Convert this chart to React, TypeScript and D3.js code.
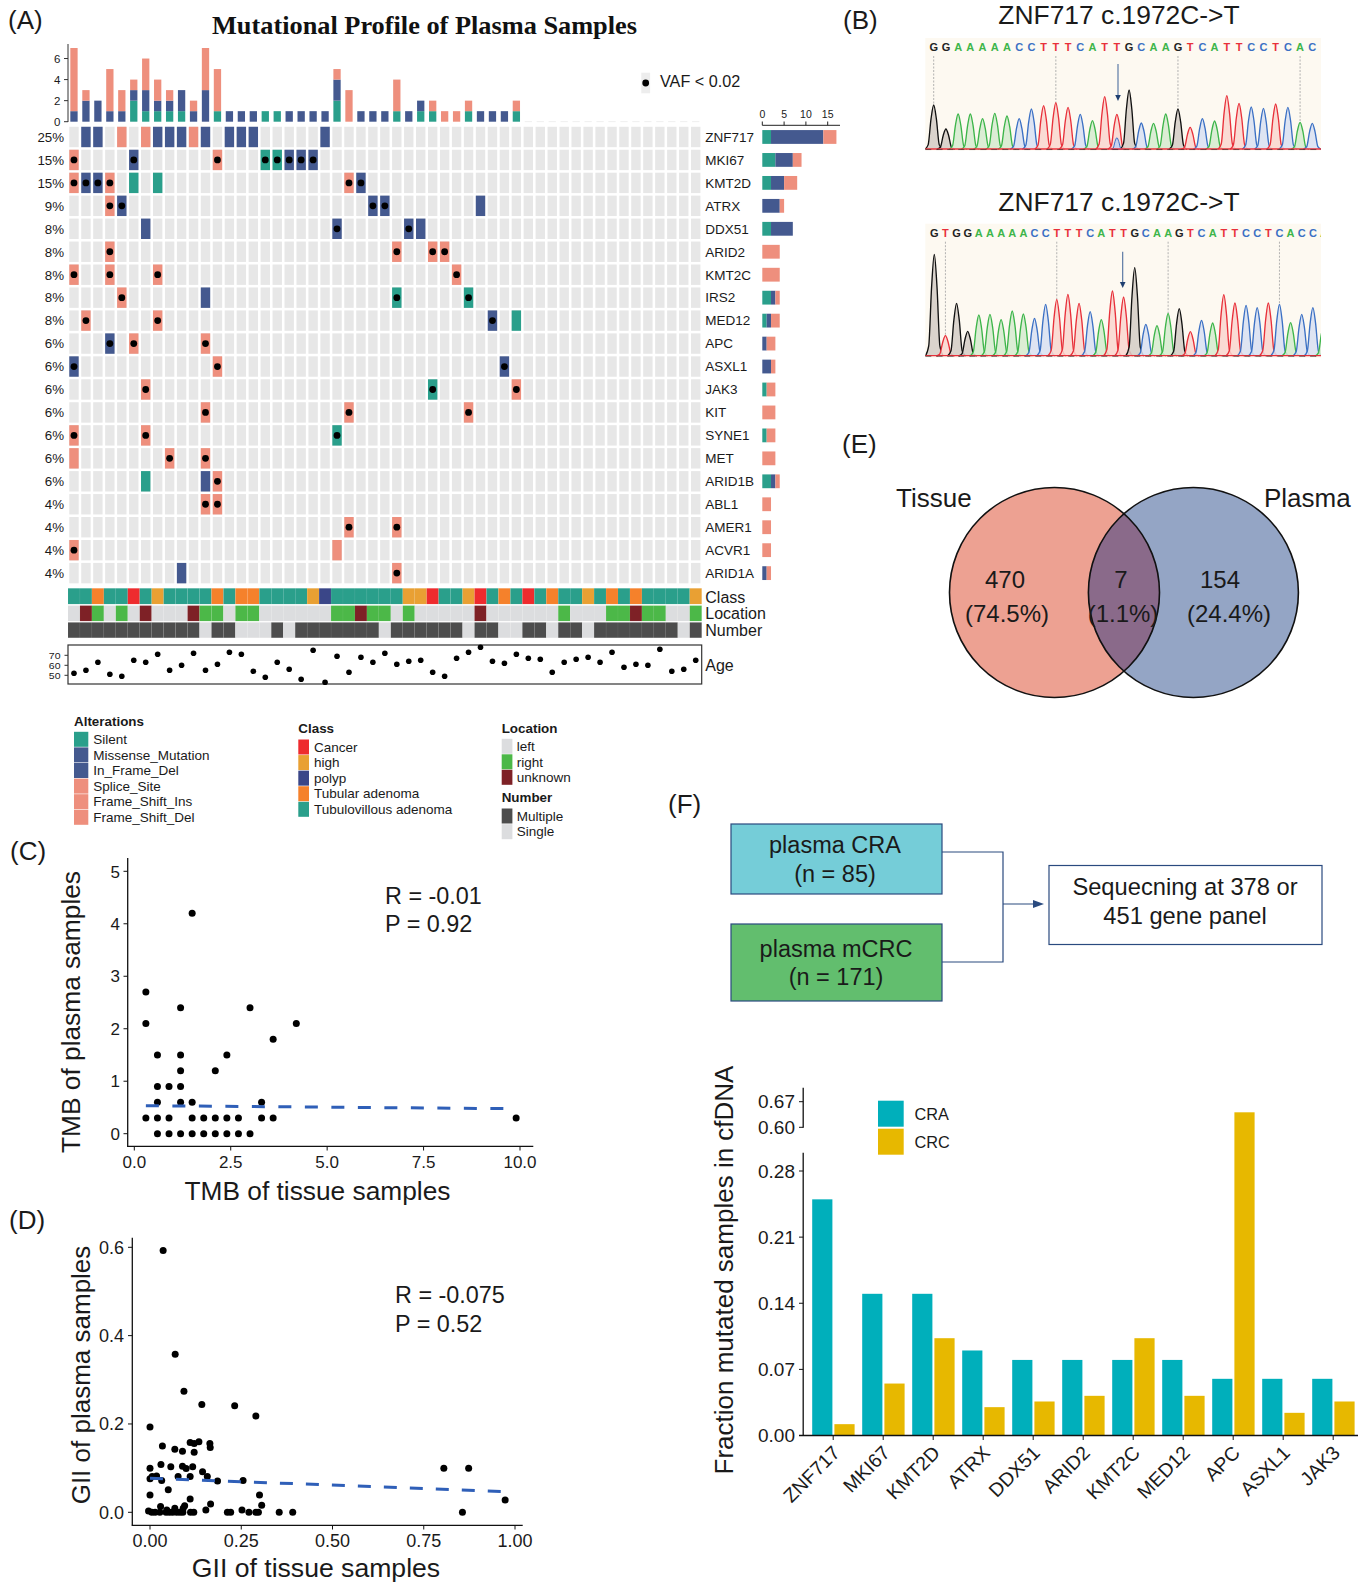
import React from 'react';
import * as d3 from 'd3';

const SANS = '"Liberation Sans", Arial, sans-serif';
const SERIF = '"Liberation Serif", serif';
const SALMON = '#EE8F7D', BLUE = '#44598F', TEAL = '#2A9F8B';

/* ---------- Panel A data ---------- */
const genes = ['ZNF717','MKI67','KMT2D','ATRX','DDX51','ARID2','KMT2C','IRS2','MED12','APC','ASXL1','JAK3','KIT','SYNE1','MET','ARID1B','ABL1','AMER1','ACVR1','ARID1A'];
const pcts = ['25%','15%','15%','9%','8%','8%','8%','8%','8%','6%','6%','6%','6%','6%','6%','6%','4%','4%','4%','4%'];
// column + type (b blue, s salmon, g green) + optional * for VAF<0.02
const mutations = [
  '1b 2b 4s 6s 7b 8b 9b 10s 11b 13b 14b 15b 21b',
  '0s* 5b* 12s* 16g* 17g* 18b* 19b* 20b*',
  '0s* 1b* 2b* 3s* 5g 7g 23s* 24b*',
  '3s* 4b* 25b* 26b* 34b',
  '6b 22b* 28b* 29b',
  '3s* 27s* 30s* 31s*',
  '0s* 3s* 7s* 32s*',
  '4s* 11b 27g* 33g*',
  '1s* 7s* 35b* 37g',
  '3b* 5s* 11s*',
  '0b* 12s* 36b*',
  '6s* 30g* 37s*',
  '11s* 23s* 33s*',
  '0s* 6s* 22g*',
  '0s 8s* 11s*',
  '6g 11b 12s*',
  '11s* 12s*',
  '23s* 27s*',
  '0s* 22s',
  '9b 27s*',
];
const topGreen =  [0,0,0,0,0,2,1,1,1,1,0,0,1,0,0,0,1,1,0,0,0,0,2,0,0,0,0,1,0,1,1,0,0,1,0,0,0,1];
const topBlue =   [1,2,2,1,1,1,2,1,1,2,1,3,0,1,1,1,0,0,1,1,1,1,2,0,1,1,1,0,1,1,0,0,0,0,1,1,1,0];
const topSalmon = [6,1,0,4,2,1,3,2,1,0,1,4,4,0,0,0,0,0,0,0,0,0,1,3,0,0,0,3,0,0,1,1,1,1,0,0,0,1];
const sideGreen =  [2,3,2,0,2,0,0,2,1,0,0,1,0,1,0,2,0,0,0,0];
const sideBlue =   [12,4,3,4,5,0,0,1,1,1,2,0,0,0,0,1,0,0,0,1];
const sideSalmon = [3,2,3,1,0,4,4,1,2,2,1,2,3,2,3,1,2,2,2,1];
const classCodes = ['t','t','o','t','t','r','t','a','t','t','t','t','o','t','o','o','t','t','t','t','a','p','t','t','t','t','t','t','a','a','r','t','t','a','r','t','o','t','r','t','o','t','t','a','t','o','t','o','t','t','t','t','a'];
const locationCodes = ['l','u','g','l','g','l','u','l','l','l','u','g','g','l','g','g','l','l','l','l','l','l','g','g','u','g','g','l','g','l','l','l','l','l','u','l','l','l','l','l','l','g','l','l','l','g','g','u','g','g','l','l','g'];
const numberCodes = ['m','m','m','m','m','m','m','m','m','m','m','s','m','m','s','s','s','m','s','m','m','m','m','m','m','m','s','m','m','m','m','m','m','s','m','m','s','s','m','m','s','m','m','s','m','m','m','m','m','m','m','s','m'];
const ages = [52,55,63,51,49,65,63,71,55,60,72,55,61,73,71,54,48,63,56,46,75,43,69,53,68,63,72,61,64,65,53,49,67,73,78,64,62,71,67,66,53,63,66,68,63,73,58,61,60,76,54,56,65];
const classColor: Record<string,string> = { t:'#2A9F8B', o:'#F5812B', r:'#EE2B2E', a:'#E9A033', p:'#3A4688' };
const locColor: Record<string,string> = { l:'#DCDDDF', g:'#4CB848', u:'#7E2126' };
const numColor: Record<string,string> = { m:'#4D4D4D', s:'#DCDDDF' };
const mutColor: Record<string,string> = { b:BLUE, s:SALMON, g:TEAL };

const legendAlt = [['Silent',TEAL],['Missense_Mutation',BLUE],['In_Frame_Del',BLUE],['Splice_Site',SALMON],['Frame_Shift_Ins',SALMON],['Frame_Shift_Del',SALMON]];
const legendClass = [['Cancer','#EE2B2E'],['high','#E9A033'],['polyp','#3A4688'],['Tubular adenoma','#F5812B'],['Tubulovillous adenoma','#2A9F8B']];
const legendLoc = [['left','#DCDDDF'],['right','#4CB848'],['unknown','#7E2126']];
const legendNum = [['Multiple','#4D4D4D'],['Single','#DCDDDF']];

/* ---------- Panel B data ---------- */
const seq1 = 'GGAAAAACCTTTCATTGCAAGTCATTCCTCAC'.split('');
const signal1 = [133,61,106,106,92,108,100,92,121,131,140,126,105,86,158,105,178,79,78,106,121,66,92,85,161,138,127,123,136,126,81,78];
const seq2 = 'GTGGAAAAACCTTTCATTGCAAGTCATTCCTCACCA'.split('');
const signal2 = [305,61,158,74,123,125,109,135,126,113,155,170,185,158,133,109,195,177,265,95,91,128,142,73,107,99,184,159,152,145,159,155,100,125,145,95];
const baseColor: Record<string,string> = { A:'#3DB54A', C:'#3B70C4', G:'#111111', T:'#E8303A' };
const baseFill: Record<string,string> = { A:'#D5EBCF', C:'#D8E0F2', G:'#D3CDC6', T:'#F9D6CF' };
const baseText: Record<string,string> = { A:'#3DB54A', C:'#3B70C4', G:'#222222', T:'#E8303A' };
const guide1 = [0,10,20,30];
const guide2 = [1,11,21,31];

/* ---------- Panel C data ---------- */
const tmbTissue = [1.5,0.3,0.3,1.2,3,4.2,3.6,0.6,1.2,2.4,1.2,2.1,0.6,0.9,1.2,0.6,1.2,1.5,3.3,0.3,0.6,0.9,1.5,1.8,2.1,2.4,2.7,3.3,3.6,9.9,0.6,0.9,1.2,1.5,1.8,2.1,2.4,2.7,3.0];
const tmbPlasma = [4.2,2.7,2.1,2.4,2.4,2.1,1.8,1.5,1.5,1.5,1.2,1.2,0.9,0.9,0.9,0.6,0.6,0.6,0.6,0.3,0.3,0.3,0.3,0.3,0.3,0.3,0.3,0.3,0.3,0.3,0,0,0,0,0,0,0,0,0];
const tmbFit = [[0.3,0.534],[9.9,0.476]];

/* ---------- Panel D data ---------- */
const giiTissue = [.036,.069,.093,.142,.232,.29,0,.034,.068,.089,.11,.121,.134,.164,.165,.121,0,.03,.057,.089,.099,.117,.144,.157,.185,.255,0,.018,.006,.032,.077,.11,.05,0,.11,.166,.3,.306,.805,.873,.973,.856,
  -.004,.005,.014,.027,.044,.053,.062,.073,.082,.09,.111,.12,.212,.221,.271,.29,.297,.354,.391,.029,.068,.095,.091,.153,.252,.046];
const giiPlasma = [.593,.358,.274,.244,.241,.218,.193,.15,.143,.138,.158,.156,.16,.156,.147,.136,.1,.108,.103,.104,.099,.103,.092,.081,.071,.072,.076,.082,.081,.072,.081,.081,.051,.039,.03,.019,.039,.016,.1,.1,.028,0,
  .003,0,0,0,0,0,0,0,0,0,0,0,0,0,0,0,0,0,0,.013,.009,.015,.009,.005,.005,.005];
const giiFit = [[0,.077],[.973,.047]];

/* ---------- Panel F data ---------- */
const fGenes = ['ZNF717','MKI67','KMT2D','ATRX','DDX51','ARID2','KMT2C','MED12','APC','ASXL1','JAK3'];
const fCRA = [.25,.15,.15,.09,.08,.08,.08,.08,.06,.06,.06];
const fCRC = [.012,.055,.103,.03,.036,.042,.103,.042,.641,.024,.036];
const fLower = [0,.07,.14,.21,.28];
const fUpper = [.6,.67];

/* ---------- helpers ---------- */
const T = (p: any) => <text fontFamily={SANS} fill="#1a1a1a" {...p} />;
const col = d3.scaleBand<number>().domain(d3.range(53)).range([68, 701.7]);
const row = d3.scaleBand<string>().domain(genes).range([125.5, 584.6]);
const cx = (c: number) => col(c)! + col.bandwidth() / 2;
const cy = (g: string) => row(g)! + row.bandwidth() / 2;

function Oncoplot() {
  const topY = d3.scaleLinear().domain([0, 7]).range([121.7, 48]);
  const sideX = d3.scaleLinear().domain([0, 15]).range([762.3, 827.7]);
  const ageY = d3.scaleLinear().domain([50, 70]).range([675.3, 655.3]);
  const cellW = 9.4, cellH = 20.4;
  return (
    <g>
      <text x={212} y={34} fontFamily={SERIF} fontWeight="bold" fontSize={26} textLength={425} lengthAdjust="spacingAndGlyphs" fill="#111">Mutational Profile of Plasma Samples</text>
      {/* top bars */}
      {d3.range(53).map(c => {
        const g = topGreen[c] || 0, b = topBlue[c] || 0, s = topSalmon[c] || 0;
        const x = cx(c) - 3.65;
        if (g + b + s === 0) return <rect key={c} x={x} y={121.4} width={7.3} height={0.7} fill="#e8e8e8" />;
        return (
          <g key={c}>
            <rect x={x} y={topY(g)} width={7.3} height={topY(0) - topY(g)} fill={TEAL} />
            <rect x={x} y={topY(g + b)} width={7.3} height={topY(g) - topY(g + b)} fill={BLUE} />
            <rect x={x} y={topY(g + b + s)} width={7.3} height={topY(g + b) - topY(g + b + s)} fill={SALMON} />
          </g>
        );
      })}
      <line x1={68} x2={68} y1={44} y2={122} stroke="#333" strokeWidth={1} />
      {[0, 2, 4, 6].map(v => (
        <g key={v}>
          <line x1={64} x2={68} y1={topY(v)} y2={topY(v)} stroke="#333" />
          <T x={60.5} y={topY(v) + 4} fontSize={11.5} textAnchor="end">{v}</T>
        </g>
      ))}
      {/* grid */}
      {genes.map((g, i) => {
        const muts = mutations[i].split(' ').map(m => ({ c: parseInt(m), t: m.replace(/[0-9*]/g, ''), dot: m.endsWith('*') }));
        return (
          <g key={g}>
            {d3.range(53).map(c => (
              <rect key={c} x={cx(c) - cellW / 2} y={cy(g) - cellH / 2} width={cellW} height={cellH} fill="#E7E7E7" />
            ))}
            {muts.map(m => <rect key={m.c} x={cx(m.c) - cellW / 2} y={cy(g) - cellH / 2} width={cellW} height={cellH} fill={mutColor[m.t]} />)}
            {muts.filter(m => m.dot).map(m => <circle key={m.c} cx={cx(m.c)} cy={cy(g)} r={3.4} fill="#000" />)}
            <T x={64} y={cy(g) + 4.8} fontSize={13.3} textAnchor="end">{pcts[i]}</T>
            <T x={705.3} y={cy(g) + 4.8} fontSize={13.5}>{g}</T>
            <rect x={sideX(0)} y={cy(g) - 6.9} width={sideX(sideGreen[i]) - sideX(0)} height={13.8} fill={TEAL} />
            <rect x={sideX(sideGreen[i])} y={cy(g) - 6.9} width={sideX(sideBlue[i]) - sideX(0)} height={13.8} fill={BLUE} />
            <rect x={sideX(sideGreen[i] + sideBlue[i])} y={cy(g) - 6.9} width={sideX(sideSalmon[i]) - sideX(0)} height={13.8} fill={SALMON} />
          </g>
        );
      })}
      {/* side axis */}
      <line x1={762.3} x2={840} y1={125.3} y2={125.3} stroke="#222" />
      {[0, 5, 10, 15].map(v => (
        <g key={v}>
          <line x1={sideX(v)} x2={sideX(v)} y1={121.5} y2={125.3} stroke="#222" />
          <T x={sideX(v)} y={118} fontSize={10.5} textAnchor="middle">{v}</T>
        </g>
      ))}
      {/* annotations */}
      {d3.range(53).map(c => (
        <g key={c}>
          <rect x={col(c)} y={588.3} width={col.bandwidth()} height={15.8} fill={classColor[classCodes[c]]} stroke="#fff" strokeOpacity={0.08} strokeWidth={0.5} />
          <rect x={col(c)} y={605.6} width={col.bandwidth()} height={15.5} fill={locColor[locationCodes[c]]} stroke="#fff" strokeOpacity={0.08} strokeWidth={0.5} />
          <rect x={col(c)} y={622.4} width={col.bandwidth()} height={15.4} fill={numColor[numberCodes[c]]} stroke="#fff" strokeOpacity={0.08} strokeWidth={0.5} />
        </g>
      ))}
      <T x={705.3} y={602.5} fontSize={16}>Class</T>
      <T x={705.3} y={619} fontSize={16}>Location</T>
      <T x={705.3} y={636} fontSize={16}>Number</T>
      <T x={705.3} y={670.5} fontSize={16}>Age</T>
      {/* age */}
      <rect x={68} y={645} width={633.7} height={39} fill="none" stroke="#333" strokeWidth={1.2} />
      {ages.map((a, c) => <circle key={c} cx={cx(c)} cy={ageY(a)} r={2.8} fill="#000" />)}
      {[50, 60, 70].map(v => (
        <g key={v}>
          <line x1={64.5} x2={68} y1={ageY(v)} y2={ageY(v)} stroke="#333" />
          <T x={48.8} y={ageY(v) + 3.3} fontSize={8.8} textLength={11.7} lengthAdjust="spacingAndGlyphs">{v}</T>
        </g>
      ))}
      {/* vaf */}
      <rect x={641.3} y={72.7} width={8.8} height={20.6} fill="#EDEDED" />
      <circle cx={645.7} cy={83} r={3.4} fill="#000" />
      <T x={660} y={87.3} fontSize={16.2}>VAF &lt; 0.02</T>
      {/* legends */}
      <T x={74} y={726} fontSize={13.4} fontWeight="bold">Alterations</T>
      {legendAlt.map(([n, c], i) => {
        const y = d3.scaleLinear().domain([0, 5]).range([739.3, 817.3])(i);
        return <g key={n}><rect x={74} y={y - 7.5} width={14.3} height={15} fill={c} /><T x={93.3} y={y + 4.7} fontSize={13.5}>{n}</T></g>;
      })}
      <T x={298.3} y={732.7} fontSize={13.4} fontWeight="bold">Class</T>
      {legendClass.map(([n, c], i) => {
        const y = d3.scaleLinear().domain([0, 4]).range([747, 809.3])(i);
        return <g key={n}><rect x={298.3} y={y - 7.5} width={10.7} height={15} fill={c} /><T x={314} y={y + 4.7} fontSize={13.5}>{n}</T></g>;
      })}
      <T x={501.7} y={732.7} fontSize={13.4} fontWeight="bold">Location</T>
      {legendLoc.map(([n, c], i) => {
        const y = d3.scaleLinear().domain([0, 2]).range([746.3, 777.3])(i);
        return <g key={n}><rect x={501.7} y={y - 7.5} width={10.7} height={15} fill={c} /><T x={516.7} y={y + 4.7} fontSize={13.5}>{n}</T></g>;
      })}
      <T x={501.7} y={802} fontSize={13.4} fontWeight="bold">Number</T>
      {legendNum.map(([n, c], i) => {
        const y = d3.scaleLinear().domain([0, 1]).range([816, 831.7])(i);
        return <g key={n}><rect x={501.7} y={y - 7.5} width={10.7} height={15} fill={c} /><T x={516.7} y={y + 4.7} fontSize={13.5}>{n}</T></g>;
      })}
    </g>
  );
}

const peakShape = [[-1, 0], [-.62, .1], [-.3, .68], [0, 1], [.3, .68], [.62, .1], [1, 0]];

function Trace({ seq, signal, top, base, bottom, x0, x1, guides, arrowAt, arrowTop, arrowBottom, id, secondary }: any) {
  const x = d3.scaleLinear().domain([0, signal.length - 1]).range([x0, x1]);
  const y = d3.scaleLinear().domain([0, 340]).range([base, base - 113.3]);
  const w = 9;
  const area = d3.area<number[]>().x(d => d[0]).y0(base).y1(d => d[1]).curve(d3.curveMonotoneX);
  const line = d3.line<number[]>().x(d => d[0]).y(d => d[1]).curve(d3.curveMonotoneX);
  return (
    <g>
      <clipPath id={id}><rect x={925.3} y={top} width={395.7} height={bottom - top} /></clipPath>
      <rect x={925.3} y={top} width={395.7} height={bottom - top} fill="#FDF9F1" />
      <g clipPath={`url(#${id})`}>
        {guides.map((g: number) => (
          <line key={g} x1={x(g)} x2={x(g)} y1={top + 18} y2={y(signal[g])} stroke="#aaa" strokeDasharray="2 1.5" strokeWidth={0.9} />
        ))}
        {signal.map((s: number, i: number) => {
          const pts = peakShape.map(([u, v]) => [x(i) + u * w, y(s * v)]);
          return (
            <g key={i}>
              <path d={area(pts)!} fill={baseFill[seq[i]]} fillOpacity={0.85} />
              <path d={line(pts)!} fill="none" stroke={baseColor[seq[i]]} strokeWidth={1.35} />
            </g>
          );
        })}
        {secondary && (() => {
          const pts = peakShape.map(([u, v]) => [x(secondary[0]) + u * 6, y(secondary[1] * v)]);
          return <path d={area(pts)!} fill="#C9D4F0" stroke="#3B70C4" strokeWidth={1} />;
        })()}
        <line x1={925.3} x2={1321} y1={base - 0.3} y2={base - 0.3} stroke="#E8303A" strokeWidth={1.3} />
        <line x1={925.3} x2={1321} y1={base + 0.3} y2={base + 0.3} stroke="#222" strokeWidth={0.6} strokeDasharray="6 5" />
        {seq.map((s: string, i: number) => (
          <text key={i} x={x(i)} y={top + 13} textAnchor="middle" fontFamily={SANS} fontWeight="bold" fontSize={11} fill={baseText[s]}>{s}</text>
        ))}
      </g>
      <line x1={arrowAt} x2={arrowAt} y1={arrowTop} y2={arrowBottom - 5} stroke="#4E6F9E" strokeWidth={1.1} />
      <path d={`M${arrowAt - 2.8},${arrowBottom - 6}L${arrowAt + 2.8},${arrowBottom - 6}L${arrowAt},${arrowBottom}Z`} fill="#1F3F70" />
    </g>
  );
}

function PanelC() {
  const x = d3.scaleLinear().domain([0, 10]).range([134.3, 520]);
  const y = d3.scaleLinear().domain([0, 5]).range([1133.7, 871.3]);
  const line = d3.line<number[]>().x(d => x(d[0])).y(d => y(d[1]));
  return (
    <g>
      <line x1={127.7} x2={127.7} y1={858} y2={1146.6} stroke="#111" strokeWidth={1.3} />
      <line x1={127} x2={533.3} y1={1146.3} y2={1146.3} stroke="#111" strokeWidth={1.3} />
      {[0, 1, 2, 3, 4, 5].map(v => (
        <g key={v}>
          <line x1={123.5} x2={127.7} y1={y(v)} y2={y(v)} stroke="#111" />
          <T x={120} y={y(v) + 6.2} fontSize={17} textAnchor="end">{v}</T>
        </g>
      ))}
      {[0, 2.5, 5, 7.5, 10].map(v => (
        <g key={v}>
          <line x1={x(v)} x2={x(v)} y1={1146.3} y2={1150.5} stroke="#111" />
          <T x={x(v)} y={1168} fontSize={17} textAnchor="middle">{v.toFixed(1)}</T>
        </g>
      ))}
      {tmbTissue.map((t, i) => <circle key={i} cx={x(t)} cy={y(tmbPlasma[i])} r={3.5} fill="#000" />)}
      <path d={line(tmbFit)!} fill="none" stroke="#2F5FB8" strokeWidth={3} strokeDasharray="13 13.5" />
      <T x={385} y={904} fontSize={23.4}>R = -0.01</T>
      <T x={385} y={932.3} fontSize={23.4}>P = 0.92</T>
      <T x={317.5} y={1199.5} fontSize={26.3} textAnchor="middle">TMB of tissue samples</T>
      <T transform="translate(79.5,1012) rotate(-90)" fontSize={26.3} textAnchor="middle">TMB of plasma samples</T>
    </g>
  );
}

function PanelD() {
  const x = d3.scaleLinear().domain([0, 1]).range([150, 515]);
  const y = d3.scaleLinear().domain([0, .6]).range([1512.3, 1247.3]);
  const line = d3.line<number[]>().x(d => x(d[0])).y(d => y(d[1]));
  return (
    <g>
      <line x1={132.3} x2={132.3} y1={1237.7} y2={1525.6} stroke="#111" strokeWidth={1.3} />
      <line x1={131.7} x2={522.7} y1={1525.3} y2={1525.3} stroke="#111" strokeWidth={1.3} />
      {[0, .2, .4, .6].map(v => (
        <g key={v}>
          <line x1={128} x2={132.3} y1={y(v)} y2={y(v)} stroke="#111" />
          <T x={124} y={y(v) + 6.5} fontSize={18} textAnchor="end">{v.toFixed(1)}</T>
        </g>
      ))}
      {[0, .25, .5, .75, 1].map(v => (
        <g key={v}>
          <line x1={x(v)} x2={x(v)} y1={1525.3} y2={1529.5} stroke="#111" />
          <T x={x(v)} y={1547} fontSize={18} textAnchor="middle">{v.toFixed(2)}</T>
        </g>
      ))}
      {giiTissue.map((t, i) => <circle key={i} cx={x(t)} cy={y(giiPlasma[i])} r={3.5} fill="#000" />)}
      <path d={line(giiFit)!} fill="none" stroke="#2F5FB8" strokeWidth={3} strokeDasharray="13 13" />
      <T x={395} y={1303.3} fontSize={23.4}>R = -0.075</T>
      <T x={395} y={1331.7} fontSize={23.4}>P = 0.52</T>
      <T x={316} y={1577} fontSize={26.6} textAnchor="middle">GII of tissue samples</T>
      <T transform="translate(90,1375) rotate(-90)" fontSize={26} textAnchor="middle">GII of plasma samples</T>
    </g>
  );
}

function PanelE() {
  const r = 105, cy0 = 592.5, c1 = 1054.5, c2 = 1193.4;
  return (
    <g>
      <clipPath id="vennClip"><circle cx={c1} cy={cy0} r={r} /></clipPath>
      <circle cx={c1} cy={cy0} r={r} fill="#EDA192" />
      <circle cx={c2} cy={cy0} r={r} fill="#94A5C5" />
      <circle cx={c2} cy={cy0} r={r} fill="#8A6A8A" clipPath="url(#vennClip)" />
      <circle cx={c1} cy={cy0} r={r} fill="none" stroke="#111" strokeWidth={1.6} />
      <circle cx={c2} cy={cy0} r={r} fill="none" stroke="#111" strokeWidth={1.6} />
      <T x={896} y={507} fontSize={26}>Tissue</T>
      <T x={1264} y={507} fontSize={26}>Plasma</T>
      <T x={1005} y={588} fontSize={24} textAnchor="middle">470</T>
      <T x={1007} y={622} fontSize={24} textAnchor="middle">(74.5%)</T>
      <T x={1121} y={588} fontSize={24} textAnchor="middle">7</T>
      <T x={1123} y={622} fontSize={24} textAnchor="middle">(1.1%)</T>
      <T x={1220} y={588} fontSize={24} textAnchor="middle">154</T>
      <T x={1229} y={622} fontSize={24} textAnchor="middle">(24.4%)</T>
    </g>
  );
}

function PanelF() {
  const navy = '#2A4A7F';
  const x = d3.scaleBand<string>().domain(fGenes).range([808.2, 1358.2]);
  const low = d3.scaleLinear().domain([0, .28]).range([1435.5, 1171]);
  const up = d3.scaleLinear().domain([.6, .67]).range([1127.3, 1101.7]);
  const val = (v: number) => (v > .3 ? up(v) : low(v));
  const bw = 20.2;
  return (
    <g>
      <rect x={731} y={824} width={211} height={70} fill="#75CDD8" stroke={navy} strokeWidth={1.2} />
      <T x={835} y={853} fontSize={23.5} textAnchor="middle">plasma CRA</T>
      <T x={835} y={882} fontSize={23.5} textAnchor="middle">(n = 85)</T>
      <rect x={731} y={924} width={211} height={77} fill="#62BE6E" stroke={navy} strokeWidth={1.2} />
      <T x={836} y={956.5} fontSize={23.5} textAnchor="middle">plasma mCRC</T>
      <T x={836} y={985} fontSize={23.5} textAnchor="middle">(n = 171)</T>
      <path d="M942,852H1003V962H942" fill="none" stroke={navy} strokeWidth={1.2} />
      <line x1={1003} x2={1038} y1={904} y2={904} stroke={navy} strokeWidth={1.2} />
      <path d="M1044,904L1033,900V908Z" fill={navy} />
      <rect x={1049} y={865.5} width={273} height={79} fill="#fff" stroke={navy} strokeWidth={1.2} />
      <T x={1185} y={895} fontSize={23.7} textAnchor="middle">Sequecning at 378 or</T>
      <T x={1185} y={924} fontSize={23.7} textAnchor="middle">451 gene panel</T>

      {fGenes.map((g, i) => (
        <g key={g}>
          <rect x={x(g)! + 4} y={val(fCRA[i])} width={bw} height={1435.5 - val(fCRA[i])} fill="#00AFBB" />
          <rect x={x(g)! + 26.2} y={val(fCRC[i])} width={bw} height={1435.5 - val(fCRC[i])} fill="#E7B800" />
          <line x1={x(g)! + 25} x2={x(g)! + 25} y1={1435.5} y2={1440} stroke="#111" />
          <T transform={`translate(${x(g)! + 33},1454) rotate(-45)`} fontSize={19.5} textAnchor="end">{g}</T>
        </g>
      ))}
      <line x1={803.2} x2={803.2} y1={1152.7} y2={1436} stroke="#111" strokeWidth={1.3} />
      <line x1={803.2} x2={803.2} y1={1087.7} y2={1127.7} stroke="#111" strokeWidth={1.3} />
      <line x1={799} x2={1358} y1={1435.5} y2={1435.5} stroke="#111" strokeWidth={1.3} />
      {fLower.map(v => (
        <g key={v}>
          <line x1={799} x2={803.2} y1={low(v)} y2={low(v)} stroke="#111" />
          <T x={795} y={low(v) + 6.5} fontSize={19} textAnchor="end">{v.toFixed(2)}</T>
        </g>
      ))}
      {fUpper.map(v => (
        <g key={v}>
          <line x1={799} x2={803.2} y1={up(v)} y2={up(v)} stroke="#111" />
          <T x={795} y={up(v) + 6.5} fontSize={19} textAnchor="end">{v.toFixed(2)}</T>
        </g>
      ))}
      <rect x={878} y={1100.7} width={25.7} height={26} fill="#00AFBB" />
      <rect x={878} y={1128.7} width={25.7} height={26} fill="#E7B800" />
      <T x={914.4} y={1119.5} fontSize={16.3}>CRA</T>
      <T x={914.4} y={1147.5} fontSize={16.3}>CRC</T>
      <T transform="translate(733,1270) rotate(-90)" fontSize={26} textAnchor="middle">Fraction mutated samples in cfDNA</T>
    </g>
  );
}

export default function App() {
  const panels = [['(A)', 8, 29], ['(B)', 843, 29], ['(C)', 10, 860], ['(D)', 9, 1229], ['(E)', 842, 453], ['(F)', 668, 813]] as const;
  return (
    <svg width={1367} height={1586} viewBox="0 0 1367 1586" style={{ position: 'absolute', left: 0, top: 0, background: '#fff' }}>
      {panels.map(([t, x, y]) => <T key={t} x={x} y={y} fontSize={26}>{t}</T>)}
      <Oncoplot />
      <T x={1119} y={24} fontSize={26.4} textAnchor="middle">ZNF717 c.1972C-&gt;T</T>
      <T x={1119} y={211} fontSize={26.4} textAnchor="middle">ZNF717 c.1972C-&gt;T</T>
      <Trace id="tr1" seq={seq1} signal={signal1} top={38} base={149.3} bottom={150.5} x0={933.7} x1={1312.3} guides={guide1} arrowAt={1118} arrowTop={64} arrowBottom={101} secondary={[15, 35]} />
      <Trace id="tr2" seq={seq2} signal={signal2} top={223.7} base={356} bottom={357.7} x0={934.3} x1={1324} guides={guide2} arrowAt={1122.7} arrowTop={251.7} arrowBottom={288} />
      <PanelC />
      <PanelD />
      <PanelE />
      <PanelF />
    </svg>
  );
}
